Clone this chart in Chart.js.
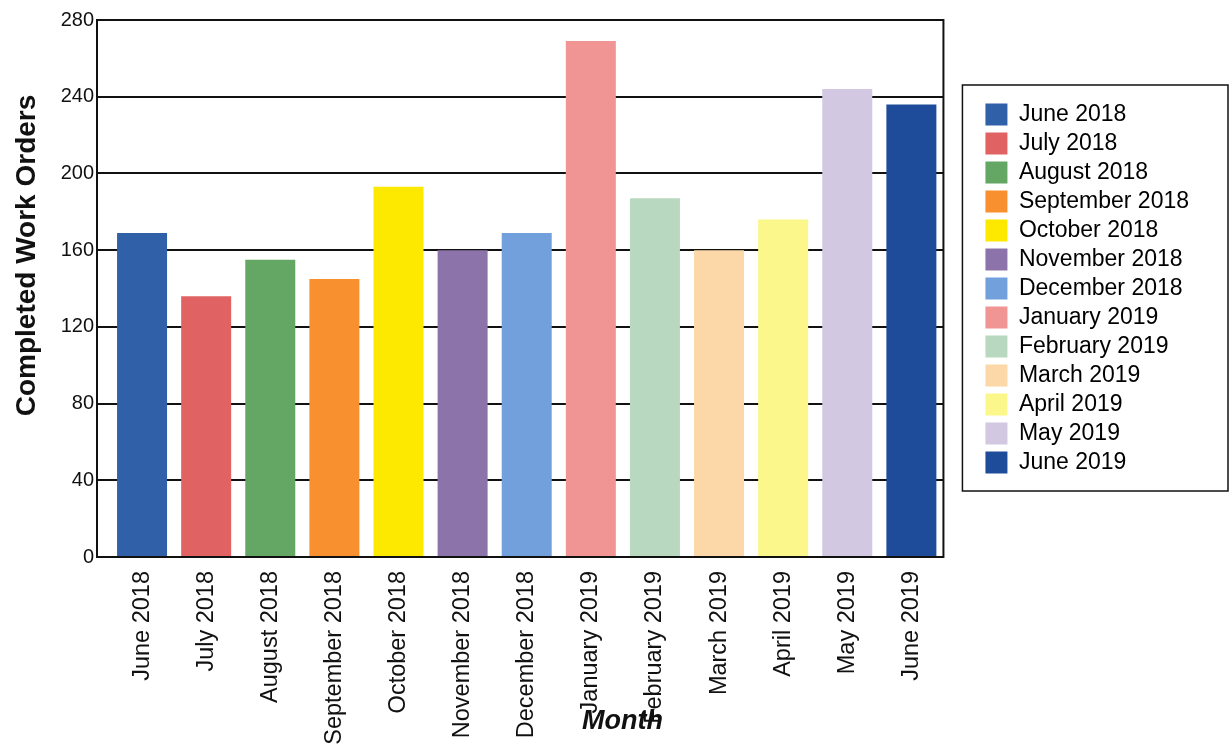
<!DOCTYPE html>
<html>
<head>
<meta charset="utf-8">
<script src="https://cdn.jsdelivr.net/npm/chart.js@4.4.1/dist/chart.umd.min.js"></script>
<style>
  html, body { margin: 0; padding: 0; background: #fff; }
  #wrap { width: 1230px; height: 752px; }
</style>
</head>
<body>
<div id="wrap"><canvas id="chart" width="1230" height="752"></canvas></div>
<script>
// monthly completed work orders, June 2018 - June 2019
const months = ['June 2018', 'July 2018', 'August 2018', 'September 2018', 'October 2018',
  'November 2018', 'December 2018', 'January 2019', 'February 2019', 'March 2019',
  'April 2019', 'May 2019', 'June 2019'];
const workOrders = [169, 136, 155, 145, 193, 160, 169, 269, 187, 160, 176, 244, 236];
const barColors = ['#3060a8', '#e06262', '#64a664', '#f8902f', '#fde800', '#8c74aa',
  '#72a0dc', '#f09494', '#b8d9c0', '#fcd8a8', '#fbf78a', '#d2c8e2', '#1e4c9a'];
const yTicks = [0, 40, 80, 120, 160, 200, 240, 280];

const FONT = "'Liberation Sans', Arial, sans-serif";
const TICK_LEN = 13;

// frame, legend box and axis titles
const decor = {
  id: 'decor',
  afterLayout(chart) {
    // keep the legend next to the plot and centred on it
    const lg = chart.legend, ca = chart.chartArea;
    const w = lg.width;
    lg.left = ca.right + 36;
    lg.right = lg.left + w;
    lg.top = ca.top;
    lg.bottom = ca.bottom;
    lg.height = lg.bottom - lg.top;
  },
  afterDraw(chart) {
    const ctx = chart.ctx, ca = chart.chartArea;
    const left = ca.left - TICK_LEN;
    ctx.save();
    ctx.strokeStyle = '#111';
    ctx.lineWidth = 2;
    ctx.strokeRect(left, ca.top, ca.right - left, ca.bottom - ca.top);

    // legend border
    const boxes = chart.legend.legendHitBoxes;
    if (boxes.length) {
      const top = boxes[0].top - 18;
      const bottom = boxes[boxes.length - 1].top + boxes[boxes.length - 1].height + 17;
      ctx.lineWidth = 1.5;
      ctx.strokeRect(ca.right + 19, top, chart.width - 2 - (ca.right + 19), bottom - top);
    }

    ctx.fillStyle = '#111';
    ctx.textAlign = 'center';
    ctx.textBaseline = 'middle';
    // y title
    ctx.save();
    ctx.translate(27, (ca.top + ca.bottom) / 2 - 33);
    ctx.rotate(-Math.PI / 2);
    ctx.font = 'bold 28px ' + FONT;
    ctx.fillText('Completed Work Orders', 0, 0);
    ctx.restore();
    // x title
    ctx.font = 'italic bold 27px ' + FONT;
    ctx.fillText('Month', ca.left + (ca.right - ca.left) * 0.615, 722);
    ctx.restore();
  }
};

new Chart(document.getElementById('chart'), {
  type: 'bar',
  data: {
    labels: months,
    datasets: [{
      label: 'Completed Work Orders',
      data: workOrders,
      backgroundColor: barColors,
      borderWidth: 0,
      barPercentage: 0.78,
      categoryPercentage: 1
    }]
  },
  options: {
    responsive: false,
    animation: false,
    layout: { padding: { top: 20, right: 67, left: 0, bottom: 0 } },
    plugins: {
      tooltip: { enabled: false },
      legend: {
        position: 'right',
        align: 'center',
        labels: {
          color: '#111',
          font: { family: FONT, size: 23 },
          boxWidth: 22,
          boxHeight: 22,
          padding: 6,
          generateLabels: (chart) => months.map((m, i) => ({
            text: m,
            fillStyle: barColors[i],
            strokeStyle: barColors[i],
            lineWidth: 0,
            hidden: false,
            index: i
          }))
        }
      }
    },
    scales: {
      x: {
        grid: { display: false, drawTicks: false },
        border: { display: false },
        ticks: {
          color: '#111',
          font: { family: FONT, size: 23.5 },
          minRotation: 90,
          maxRotation: 90,
          autoSkip: false,
          padding: 14
        },
        afterFit: (s) => { s.height = 195; }
      },
      y: {
        min: 0,
        max: 280,
        afterBuildTicks: (s) => { s.ticks = yTicks.map(v => ({ value: v })); },
        grid: { color: '#111', lineWidth: 2, drawTicks: true, tickLength: TICK_LEN, tickColor: '#111' },
        border: { display: false },
        ticks: { color: '#111', font: { family: FONT, size: 20 }, padding: 3 },
        afterFit: (s) => { s.width = 110; }
      }
    }
  },
  plugins: [decor]
});
</script>
</body>
</html>
